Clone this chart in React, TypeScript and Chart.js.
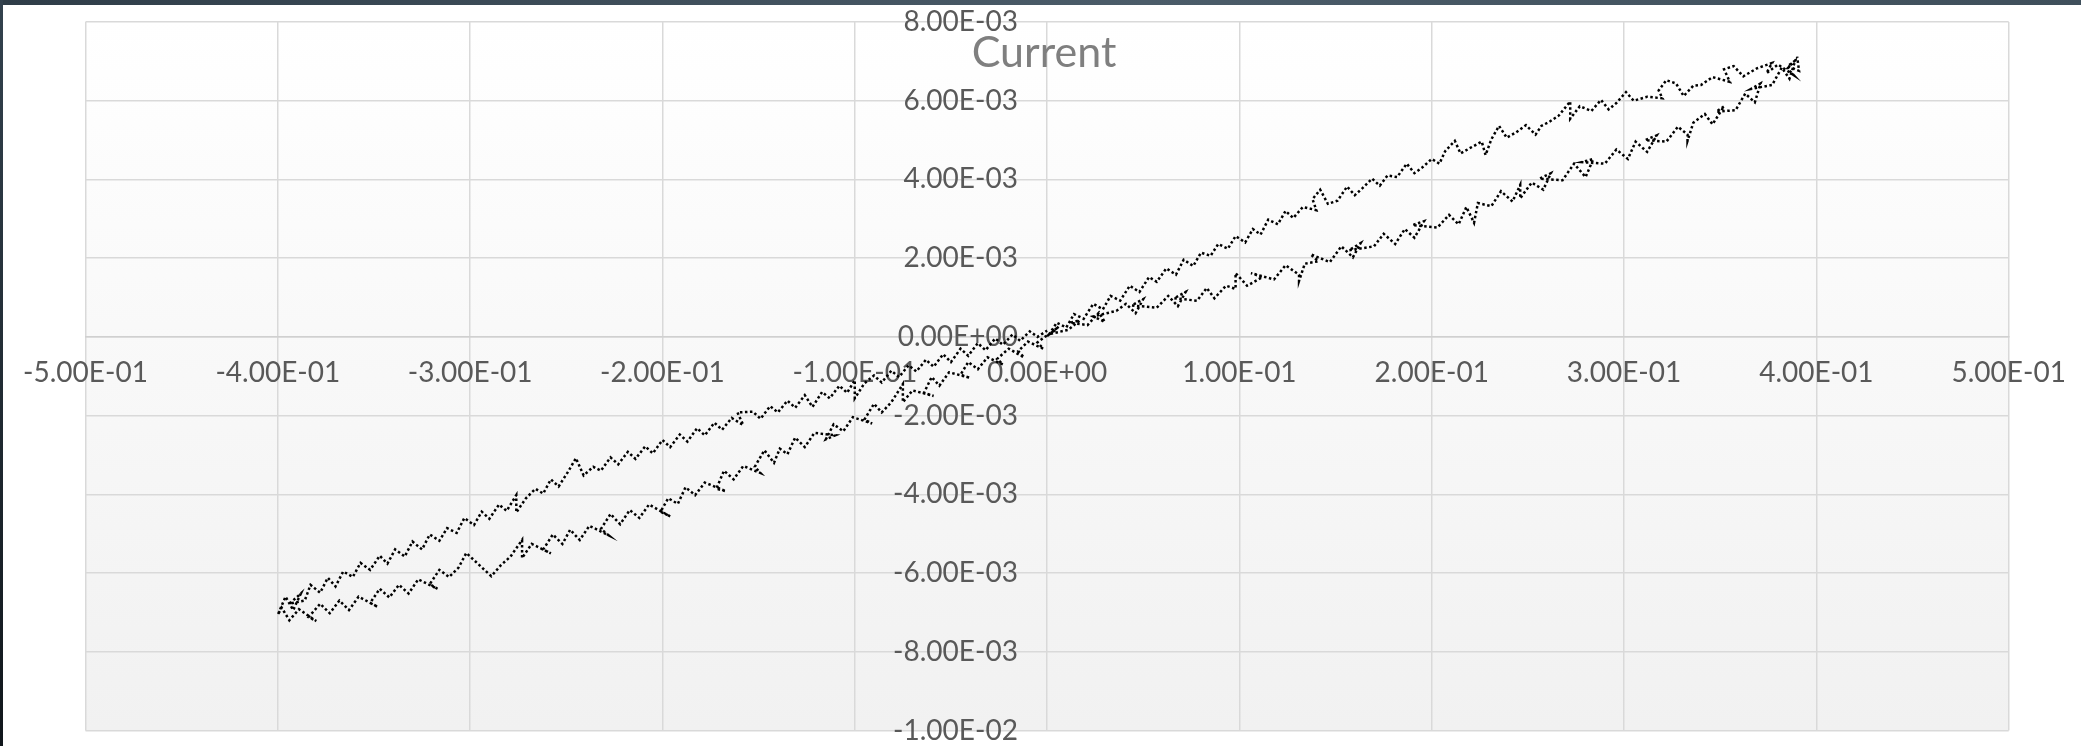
import { useEffect, useRef } from "react";
import { Chart, registerables } from "chart.js";

Chart.register(...registerables);

// Cyclic I-V sweep, [voltage (V), current (mA)] in acquisition order.
// Sweep 1: 0 V -> +0.39 V
const sweepForwardPos: [number, number][] = [
  [0.000, 0.02], [0.006, 0.26], [0.002, 0.08], [0.011, 0.18], [0.017, 0.42], [0.012, 0.36],
  [0.021, 0.30], [0.027, 0.62], [0.030, 0.38], [0.024, 0.52], [0.036, 0.66], [0.041, 0.84],
  [0.046, 0.60], [0.050, 0.96], [0.044, 0.80], [0.057, 0.74], [0.063, 1.04], [0.068, 0.78],
  [0.072, 1.14], [0.066, 0.98], [0.078, 0.92], [0.083, 1.24], [0.087, 0.98], [0.093, 1.30],
  [0.098, 1.22], [0.098, 1.62], [0.104, 1.30], [0.112, 1.52], [0.106, 1.62], [0.118, 1.46],
  [0.124, 1.82], [0.131, 1.58], [0.131, 1.42], [0.134, 1.86], [0.141, 1.92], [0.137, 2.10],
  [0.147, 1.90], [0.153, 2.30], [0.159, 2.02], [0.163, 2.38], [0.157, 2.20], [0.170, 2.30],
  [0.175, 2.62], [0.181, 2.36], [0.186, 2.74], [0.191, 2.52], [0.196, 2.94], [0.190, 2.84],
  [0.203, 2.78], [0.209, 3.10], [0.214, 2.86], [0.218, 3.30], [0.222, 2.90], [0.224, 3.40],
  [0.231, 3.32], [0.236, 3.70], [0.242, 3.44], [0.246, 3.86], [0.246, 3.52], [0.252, 3.92],
  [0.258, 3.74], [0.262, 4.16], [0.256, 4.02], [0.268, 3.98], [0.274, 4.40], [0.280, 4.06],
  [0.284, 4.52], [0.278, 4.44], [0.290, 4.40], [0.296, 4.76], [0.302, 4.52], [0.306, 4.96],
  [0.312, 4.70], [0.317, 5.12], [0.311, 5.00], [0.322, 4.96], [0.328, 5.34], [0.333, 5.14],
  [0.333, 4.98], [0.336, 5.44], [0.342, 5.66], [0.346, 5.40], [0.352, 5.86], [0.348, 5.72],
  [0.358, 5.76], [0.363, 6.18], [0.368, 5.96], [0.371, 6.44], [0.366, 6.30], [0.377, 6.40],
  [0.382, 6.84], [0.386, 6.56], [0.389, 7.02], [0.385, 6.88], [0.391, 6.76], [0.390, 7.12],
];

// Sweep 2: +0.39 V -> 0 V
const sweepReversePos: [number, number][] = [
  [0.390, 7.08], [0.385, 6.82], [0.388, 6.66], [0.380, 6.92], [0.374, 6.70], [0.377, 6.96],
  [0.369, 6.82], [0.362, 6.62], [0.357, 6.88], [0.352, 6.80], [0.355, 6.48], [0.346, 6.60],
  [0.340, 6.40], [0.336, 6.38], [0.331, 6.12], [0.327, 6.44], [0.322, 6.52], [0.318, 6.26],
  [0.320, 6.06], [0.312, 6.10], [0.305, 6.00], [0.301, 6.22], [0.296, 5.94], [0.292, 5.78],
  [0.288, 6.02], [0.283, 5.74], [0.277, 5.86], [0.272, 5.54], [0.272, 5.98], [0.266, 5.62],
  [0.261, 5.46], [0.257, 5.36], [0.254, 5.14], [0.249, 5.38], [0.244, 5.20], [0.239, 5.06],
  [0.235, 5.36], [0.231, 5.02], [0.228, 4.62], [0.226, 4.96], [0.220, 4.80], [0.215, 4.66],
  [0.212, 4.98], [0.207, 4.72], [0.204, 4.40], [0.200, 4.52], [0.195, 4.30], [0.191, 4.16],
  [0.187, 4.40], [0.182, 4.06], [0.177, 4.10], [0.173, 3.84], [0.169, 4.02], [0.164, 3.78],
  [0.160, 3.60], [0.156, 3.82], [0.151, 3.46], [0.146, 3.38], [0.142, 3.74], [0.138, 3.50],
  [0.140, 3.22], [0.133, 3.30], [0.128, 3.02], [0.124, 3.20], [0.120, 2.86], [0.115, 2.98],
  [0.111, 2.60], [0.107, 2.74], [0.103, 2.40], [0.098, 2.56], [0.094, 2.24], [0.089, 2.36],
  [0.085, 2.06], [0.080, 2.14], [0.076, 1.80], [0.071, 1.96], [0.067, 1.58], [0.062, 1.74],
  [0.057, 1.40], [0.053, 1.52], [0.048, 1.14], [0.043, 1.30], [0.038, 0.92], [0.033, 1.04],
  [0.029, 0.70], [0.024, 0.84], [0.019, 0.46], [0.014, 0.58], [0.010, 0.24], [0.005, 0.36],
  [0.001, 0.06],
];

// Sweep 3: 0 V -> -0.40 V
const sweepForwardNeg: [number, number][] = [
  [0.000, 0.04], [-0.005, -0.14], [-0.002, -0.30], [-0.010, -0.12], [-0.015, -0.36], [-0.012, -0.52],
  [-0.020, -0.30], [-0.026, -0.56], [-0.023, -0.70], [-0.031, -0.52], [-0.036, -0.82], [-0.041, -0.64],
  [-0.045, -0.96], [-0.040, -1.04], [-0.051, -0.90], [-0.056, -1.24], [-0.060, -1.02], [-0.064, -1.42],
  [-0.059, -1.50], [-0.070, -1.36], [-0.075, -1.66], [-0.075, -1.20], [-0.081, -1.66], [-0.086, -1.92],
  [-0.090, -1.70], [-0.095, -2.10], [-0.091, -2.20], [-0.101, -2.04], [-0.106, -2.40], [-0.111, -2.22],
  [-0.115, -2.60], [-0.110, -2.50], [-0.121, -2.44], [-0.126, -2.80], [-0.131, -2.56], [-0.135, -2.98],
  [-0.139, -2.84], [-0.142, -3.20], [-0.147, -2.88], [-0.152, -3.30], [-0.149, -3.46], [-0.158, -3.28],
  [-0.163, -3.62], [-0.168, -3.40], [-0.172, -3.86], [-0.167, -3.92], [-0.178, -3.70], [-0.183, -4.02],
  [-0.188, -3.82], [-0.192, -4.24], [-0.197, -4.10], [-0.201, -4.44], [-0.196, -4.56], [-0.207, -4.26],
  [-0.212, -4.60], [-0.217, -4.40], [-0.222, -4.76], [-0.227, -4.50], [-0.232, -4.88], [-0.228, -5.04],
  [-0.238, -4.80], [-0.243, -5.16], [-0.248, -4.90], [-0.252, -5.26], [-0.257, -5.02], [-0.262, -5.40],
  [-0.258, -5.50], [-0.268, -5.26], [-0.273, -5.62], [-0.273, -5.16], [-0.279, -5.58], [-0.284, -5.80],
  [-0.289, -6.08], [-0.302, -5.49], [-0.306, -5.86], [-0.311, -6.10], [-0.316, -5.92], [-0.321, -6.28],
  [-0.317, -6.40], [-0.327, -6.16], [-0.332, -6.52], [-0.337, -6.30], [-0.342, -6.62], [-0.347, -6.40],
  [-0.352, -6.76], [-0.348, -6.86], [-0.358, -6.60], [-0.363, -6.94], [-0.368, -6.70], [-0.373, -7.02],
  [-0.378, -6.78], [-0.384, -7.12], [-0.380, -7.22], [-0.389, -6.92], [-0.394, -7.20], [-0.398, -6.88],
  [-0.400, -7.06],
];

// Sweep 4: -0.40 V -> 0 V
const sweepReverseNeg: [number, number][] = [
  [-0.400, -7.06], [-0.396, -6.60], [-0.392, -6.94], [-0.388, -6.52], [-0.394, -6.78], [-0.386, -6.70],
  [-0.383, -6.30], [-0.378, -6.50], [-0.374, -6.12], [-0.370, -6.34], [-0.366, -5.96], [-0.361, -6.10],
  [-0.357, -5.74], [-0.352, -5.92], [-0.347, -5.56], [-0.343, -5.76], [-0.339, -5.40], [-0.334, -5.58],
  [-0.330, -5.20], [-0.325, -5.40], [-0.321, -5.02], [-0.316, -5.18], [-0.312, -4.86], [-0.307, -4.98],
  [-0.303, -4.60], [-0.298, -4.78], [-0.294, -4.44], [-0.290, -4.62], [-0.285, -4.26], [-0.281, -4.42],
  [-0.276, -4.02], [-0.276, -4.46], [-0.271, -4.10], [-0.266, -3.86], [-0.262, -3.98], [-0.258, -3.62],
  [-0.254, -3.80], [-0.249, -3.42], [-0.245, -3.08], [-0.241, -3.52], [-0.236, -3.30], [-0.232, -3.40],
  [-0.227, -3.06], [-0.223, -3.24], [-0.218, -2.92], [-0.214, -3.10], [-0.209, -2.78], [-0.205, -2.96],
  [-0.200, -2.62], [-0.196, -2.80], [-0.191, -2.48], [-0.187, -2.66], [-0.182, -2.32], [-0.178, -2.50],
  [-0.173, -2.18], [-0.169, -2.36], [-0.164, -2.06], [-0.158, -2.24], [-0.161, -1.92], [-0.153, -1.90],
  [-0.149, -2.08], [-0.144, -1.76], [-0.140, -1.92], [-0.135, -1.62], [-0.131, -1.80], [-0.126, -1.48],
  [-0.122, -1.78], [-0.117, -1.40], [-0.113, -1.56], [-0.108, -1.24], [-0.104, -1.42], [-0.100, -1.10],
  [-0.100, -1.56], [-0.095, -1.18], [-0.090, -0.98], [-0.086, -1.16], [-0.081, -0.86], [-0.077, -1.02],
  [-0.072, -0.72], [-0.068, -0.88], [-0.063, -0.58], [-0.059, -0.76], [-0.054, -0.44], [-0.050, -0.64],
  [-0.045, -0.30], [-0.041, -0.48], [-0.036, -0.16], [-0.032, -0.34], [-0.027, -0.04], [-0.023, -0.20],
  [-0.018, 0.06], [-0.014, -0.10], [-0.009, 0.14], [-0.005, 0.00], [0.000, 0.16],
];

const voltageTicks = [-0.5, -0.4, -0.3, -0.2, -0.1, 0, 0.1, 0.2, 0.3, 0.4, 0.5];
const currentTicks = [-0.01, -0.008, -0.006, -0.004, -0.002, 0, 0.002, 0.004, 0.006, 0.008];
const chartTitle = "Current";

// Vertical axis labels sit a little left of the V = 0 line.
const currentLabelAnchorV = -0.0152;
const MA_TO_A = 1e-3;

const FONT = "Lato, 'Open Sans', sans-serif";

function sci(v: number): string {
  if (Math.abs(v) < 1e-12) return "0.00E+00";
  const [m, e] = v.toExponential(2).split("e");
  const n = parseInt(e, 10);
  return `${m}E${n < 0 ? "-" : "+"}${String(Math.abs(n)).padStart(2, "0")}`;
}

const plotDecor = {
  id: "plotDecor",
  beforeDraw(chart: any) {
    const { ctx, chartArea: a } = chart;
    const g = ctx.createLinearGradient(0, a.top, 0, a.bottom);
    g.addColorStop(0, "#ffffff");
    g.addColorStop(1, "#f1f1f1");
    ctx.save();
    ctx.fillStyle = g;
    ctx.fillRect(a.left, a.top, a.right - a.left, a.bottom - a.top);
    ctx.restore();
  },
  afterDraw(chart: any) {
    const { ctx, width } = chart;
    ctx.save();
    ctx.font = `43px ${FONT}`;
    ctx.fillStyle = "#7f7f7f";
    ctx.textAlign = "center";
    ctx.textBaseline = "alphabetic";
    ctx.fillText(chartTitle, width / 2 + 2, 62);
    ctx.restore();
  },
};

export default function App() {
  const canvasRef = useRef<HTMLCanvasElement | null>(null);

  useEffect(() => {
    const canvas = canvasRef.current;
    if (!canvas) return;
    const sweeps = [sweepForwardPos, sweepReversePos, sweepForwardNeg, sweepReverseNeg];
    const points = sweeps.flat().map(([v, mA]) => ({ x: v, y: mA * MA_TO_A }));

    // Horizontal labels: a tall line box pushes them below the I = 0 line
    // without adding tick padding to the side overflow.
    const xTickFont = { family: FONT, size: 28, lineHeight: 72 / 28 };
    const yTickFont = { family: FONT, size: 28, lineHeight: 1 };

    const chart = new Chart(canvas, {
      type: "scatter",
      data: {
        datasets: [
          {
            data: points,
            showLine: true,
            borderColor: "#000000",
            borderWidth: 2.5,
            borderDash: [2.5, 2.5],
            borderCapStyle: "butt",
            pointRadius: 0,
            pointHoverRadius: 0,
            tension: 0,
            fill: false,
          },
        ],
      },
      options: {
        animation: false,
        responsive: false,
        devicePixelRatio: 1,
        events: [],
        layout: { padding: { left: 82.5, right: 72.3, top: 17, bottom: 15.5 } },
        plugins: {
          legend: { display: false },
          tooltip: { enabled: false },
          title: { display: false },
        },
        scales: {
          x: {
            type: "linear",
            position: { y: 0 },
            min: -0.5,
            max: 0.5,
            afterBuildTicks: (s: any) => {
              s.ticks = voltageTicks.map((value) => ({ value }));
            },
            grid: { color: "#d9d9d9", lineWidth: 1.5, drawTicks: false },
            border: { display: true, color: "#d0d0d0", width: 1.5 },
            ticks: {
              autoSkip: false,
              maxRotation: 0,
              minRotation: 0,
              padding: 0,
              color: "#595959",
              font: xTickFont,
              callback: (v: any) => sci(Number(v)),
            },
          },
          y: {
            type: "linear",
            position: { x: currentLabelAnchorV },
            min: -0.01,
            max: 0.008,
            afterBuildTicks: (s: any) => {
              s.ticks = currentTicks.map((value) => ({ value }));
            },
            grid: { color: "#d9d9d9", lineWidth: 1.5, drawTicks: false },
            border: { display: false },
            ticks: {
              autoSkip: false,
              padding: 0,
              color: "#595959",
              font: yTickFont,
              callback: (v: any) => sci(Number(v)),
            },
          },
        },
      },
      plugins: [plotDecor],
    } as any);

    return () => chart.destroy();
  }, []);

  return (
    <div
      style={{
        position: "fixed",
        left: 0,
        top: 0,
        width: 2081,
        height: 746,
        overflow: "hidden",
        background: "#ffffff",
      }}
    >
      <div
        style={{
          position: "absolute",
          left: 0,
          top: 0,
          width: "100%",
          height: 5,
          background: "linear-gradient(90deg, #2f3d48 0%, #4b5c69 55%, #3f4f5b 100%)",
        }}
      />
      <div
        style={{
          position: "absolute",
          left: 0,
          top: 0,
          width: 3,
          height: "100%",
          background: "linear-gradient(180deg, #33424e 0%, #10161b 100%)",
        }}
      />
      <canvas
        ref={canvasRef}
        width={2078}
        height={741}
        style={{ position: "absolute", left: 3, top: 5, width: 2078, height: 741, background: "#ffffff" }}
      />
    </div>
  );
}
